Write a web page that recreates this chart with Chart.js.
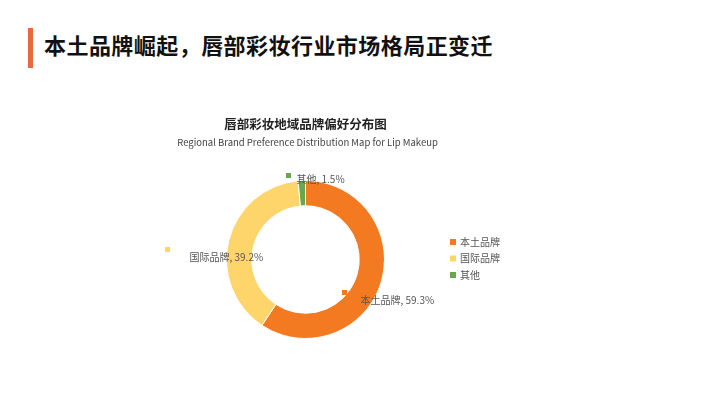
<!DOCTYPE html>
<html>
<head>
<meta charset="utf-8">
<script src="https://cdn.jsdelivr.net/npm/chart.js@4/dist/chart.umd.min.js"></script>
<style>
    html, body { margin: 0; padding: 0; background: #fff; }
    body { width: 712px; height: 394px; position: relative; overflow: hidden; font-family: "Noto Sans CJK SC", "Noto Sans", sans-serif; }
    .bar { position: absolute; left: 28px; top: 28px; width: 5px; height: 40px; background: #E8693C; }
    .headline { position: absolute; left: 44px; top: 29px; font-size: 22px; font-weight: bold; color: #111; line-height: 30px; letter-spacing: 0.45px; }
    #wrap { position: absolute; left: 0; top: 0; width: 712px; height: 394px; }
</style>
</head>
<body>
<div class="bar"></div>
<div class="headline">本土品牌崛起，唇部彩妆行业市场格局正变迁</div>
<div id="wrap"><canvas id="mainChart"></canvas></div>
<script>
// Data
const categories = ['本土品牌', '国际品牌', '其他'];
const shares = [59.3, 39.2, 1.5];
const sliceColors = ['#F47A22', '#FDD56B', '#67A94A'];

const chartTitle = '唇部彩妆地域品牌偏好分布图';
const chartSubtitle = 'Regional Brand Preference Distribution Map for Lip Makeup';

// label placement relative to doughnut centre (marker dx, dy, text gap, text dy)
const labelOffsets = [
    { dx: 39, dy: 33, gap: 16, ty: 8 },
    { dx: -138, dy: -10, gap: 22, ty: 7.5 },
    { dx: -17, dy: -84, gap: 8, ty: 4 }
];

const FONT = '"Noto Sans CJK SC", "Noto Sans", sans-serif';

const decorPlugin = {
    id: 'decor',
    afterDraw(chart) {
        const ctx = chart.ctx;
        const area = chart.chartArea;
        const cx = (area.left + area.right) / 2;
        const cy = (area.top + area.bottom) / 2;
        const ds = chart.data.datasets[0];

        ctx.save();
        // titles
        ctx.textAlign = 'center';
        ctx.textBaseline = 'middle';
        ctx.fillStyle = '#222';
        ctx.font = 'bold 12.5px ' + FONT;
        ctx.fillText(chartTitle, cx, 124);
        ctx.fillStyle = '#444';
        ctx.font = '9.5px ' + FONT;
        ctx.fillText(chartSubtitle, cx + 2, 142);

        // data labels
        ctx.textAlign = 'left';
        ctx.font = '10px ' + FONT;
        chart.data.labels.forEach((lab, i) => {
            const o = labelOffsets[i];
            const mx = cx + o.dx;
            const my = cy + o.dy;
            ctx.fillStyle = ds.backgroundColor[i];
            ctx.fillRect(mx - 2.5, my - 2.5, 5, 5);
            ctx.fillStyle = '#555';
            ctx.fillText(lab + ', ' + ds.data[i].toFixed(1) + '%', mx + o.gap, my + o.ty);
        });

        // legend
        const lx = 450;
        const ly = 242;
        chart.data.labels.forEach((lab, i) => {
            const y = ly + i * 16.5;
            ctx.fillStyle = ds.backgroundColor[i];
            ctx.fillRect(lx, y - 3, 6, 6);
            ctx.fillStyle = '#555';
            ctx.fillText(lab, lx + 10, y);
        });
        ctx.restore();
    }
};

const chart = new Chart(document.getElementById('mainChart'), {
    type: 'doughnut',
    data: {
        labels: categories,
        datasets: [{
            data: shares,
            backgroundColor: sliceColors,
            borderColor: '#fff',
            borderWidth: 1
        }]
    },
    options: {
        responsive: true,
        maintainAspectRatio: false,
        animation: false,
        cutout: '68%',
        layout: {
            padding: { left: 226, right: 327, top: 180, bottom: 55 }
        },
        plugins: {
            legend: { display: false },
            title: { display: false },
            tooltip: { enabled: false }
        }
    },
    plugins: [decorPlugin]
});
</script>
</body>
</html>
